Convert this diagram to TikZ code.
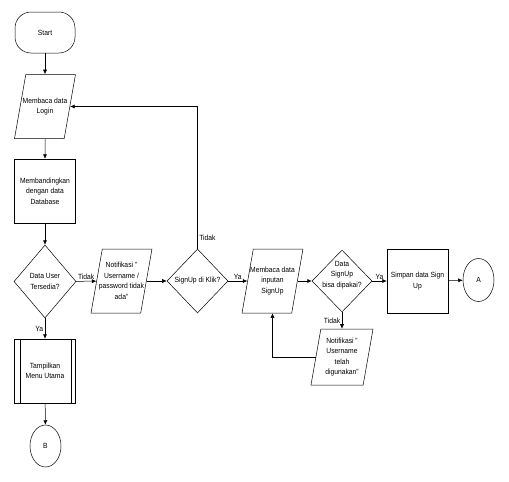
\documentclass[tikz,border=0pt]{standalone}
\usepackage{fontspec}
\setmainfont[FakeStretch=0.9]{Liberation Sans}
\usetikzlibrary{shapes.geometric,arrows.meta}

\begin{document}
\begin{tikzpicture}[x=1pt,y=-1pt,line width=0.5pt,
        txt/.style={align=center,inner sep=0pt,font=\fontsize{7.5}{10.5}\selectfont},
        lbl/.style={inner sep=1.5pt,font=\fontsize{7.5}{8}\selectfont},
        term/.style={draw,rectangle,rounded corners=16pt,minimum width=60pt,minimum height=41pt},
        proc/.style={draw,rectangle,minimum width=61pt,minimum height=64pt},
        io/.style={draw,trapezium,trapezium left angle=80,trapezium right angle=100,inner sep=0pt,text width=38.4pt,text height=32pt,text depth=32pt},
        dec/.style={draw,diamond,inner sep=0pt},
        conn/.style={draw,ellipse,minimum width=31pt,minimum height=43pt,inner sep=0pt},
        arr/.style={-{Latex[length=4.5pt,width=4pt]}}]
                \useasboundingbox (0,0) rectangle (509,482);
                \node[term,label={[txt]center:Start}] (start) at (45,32.5) {};
                \node[io,label={[txt]center:Membaca data\\Login}] (login) at (45,106.5) {};
                \node[proc,label={[txt]center:Membandingkan\\dengan data\\Database}] (banding) at (45,191) {};
                \node[dec,minimum width=62pt,minimum height=73pt,label={[txt]center:Data User\\Tersedia?}] (du) at (45,281.5) {};
                \node[io,label={[txt]center:Notifikasi "\\Username /\\password tidak\\ada"}] (n1) at (121.5,281) {};
                \node[dec,minimum width=61pt,minimum height=64pt,label={[txt]center:SignUp di Klik?}] (su) at (197.5,281) {};
                \node[io,label={[txt]center:Membaca data\\inputan\\SignUp}] (inp) at (272.5,281) {};
                \node[dec,minimum width=60pt,minimum height=62pt,label={[txt,yshift=6pt]center:Data\\SignUp\\bisa dipakai?}] (ds) at (342,281) {};
                \node[proc,label={[txt]center:Simpan data Sign\\Up}] (simpan) at (417.5,281) {};
                \node[conn,label={[txt]center:A}] (a) at (478.5,280) {};
                \node[io,text width=42.3pt,text height=28pt,text depth=28pt,label={[txt]center:Notifikasi "\\Username\\telah\\digunakan"}] (n2) at (342,357) {};
                \node[proc,label={[txt]center:Tampilkan\\Menu Utama}] (tampil) at (45,371) {};
                \draw ([xshift=6pt]tampil.north west) -- ([xshift=6pt]tampil.south west);
                \draw ([xshift=-5pt]tampil.north east) -- ([xshift=-5pt]tampil.south east);
                \node[conn,minimum height=42pt,label={[txt]center:B}] (b) at (45.5,446) {};

                \draw[arr] (start) -- (login);
                \draw[arr] (login) -- (banding);
                \draw[arr] (banding) -- (du);
                \draw[arr] (du) -- node[lbl,above] {Tidak} (n1);
                \draw[arr] (n1) -- (su);
                \draw[arr] (su) -- node[lbl,above] {Ya} (inp);
                \draw[arr] (su.north) |- node[lbl,pos=0.04,right] {Tidak} (login.east);
                \draw[arr] (inp) -- (ds);
                \draw[arr] (ds) -- node[lbl,above] {Ya} (simpan);
                \draw[arr] (simpan) -- (a);
                \draw[arr] (ds) -- node[lbl,left] {Tidak} (n2);
                \draw[arr] (n2.west) -| (inp.south);
                \draw[arr] (du) -- node[lbl,left] {Ya} (tampil);
                \draw[arr] (tampil) -- (b);
            \end{tikzpicture}
\end{document}
